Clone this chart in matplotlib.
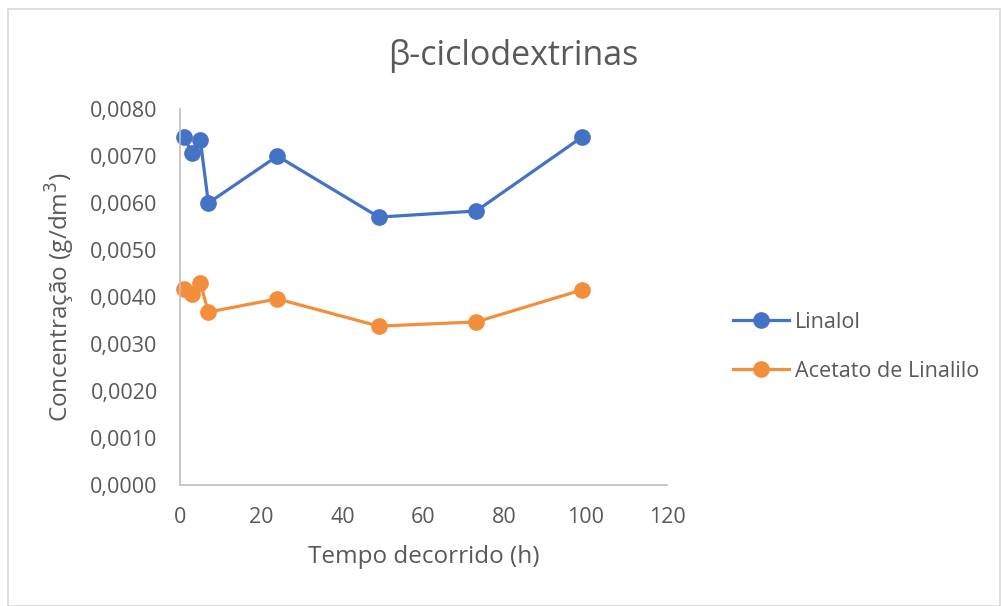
import matplotlib.pyplot as plt
from matplotlib.patches import Rectangle
from matplotlib.ticker import FuncFormatter

plt.rcParams['font.family'] = ['Open Sans', 'DejaVu Sans']

tempo = [1, 3, 5, 7, 24, 49, 73, 99]
linalol = [0.00740, 0.00706, 0.00735, 0.00600, 0.00700, 0.00570, 0.00583, 0.00740]
acetato = [0.00417, 0.00406, 0.00430, 0.00368, 0.00396, 0.00338, 0.00347, 0.00415]

azul = '#4472C4'
laranja = '#F28E3C'
cinza = '#595959'

fig = plt.figure(figsize=(10.02, 6.06), dpi=100)
ax = fig.add_axes([0.1796, 0.1997, 0.4861, 0.6204])

ax.plot(tempo, linalol, '-o', color=azul, lw=2.3, ms=11, label='Linalol')
ax.plot(tempo, acetato, '-o', color=laranja, lw=2.3, ms=11, label='Acetato de Linalilo')

ax.set_xlim(0, 120)
ax.set_ylim(0, 0.008)
ax.set_xticks(range(0, 121, 20))
ax.set_yticks([i * 0.001 for i in range(9)])
ax.yaxis.set_major_formatter(FuncFormatter(lambda v, p: f'{v:.4f}'.replace('.', ',')))
ax.tick_params(length=0, labelsize=15.5, colors=cinza)
ax.yaxis.set_tick_params(pad=16)
ax.xaxis.set_tick_params(pad=16)
for s in ['top', 'right']:
    ax.spines[s].set_visible(False)
for s in ['left', 'bottom']:
    ax.spines[s].set_color('#bfbfbf')
    ax.spines[s].set_linewidth(1.2)
ax.patch.set_alpha(0)
for ln in ax.lines:
    ln.set_clip_on(False)

ax.set_xlabel('Tempo decorrido (h)', fontsize=17.5, color=cinza, va='center')
ax.set_ylabel('Concentração (g/dm$^3$)', fontsize=17.5, color=cinza, va='center')
ax.xaxis.set_label_coords(0.5, -0.191)
ax.yaxis.set_label_coords(-0.246, 0.5)

fig.text(0.512, 0.907, 'β-ciclodextrinas', fontsize=24.5, color=cinza, ha='center', va='center')

fig.legend(loc='center left', bbox_to_anchor=(0.712, 0.428), frameon=False,
           fontsize=15.5, labelcolor=cinza, handlelength=2.6, labelspacing=1.3,
           handletextpad=0.3)

fig.patches.append(Rectangle((0.008, 0.0), 0.99, 0.985, transform=fig.transFigure,
                             fill=False, edgecolor='#d9d9d9', lw=1.2))

fig.savefig('out.png', dpi=100)
